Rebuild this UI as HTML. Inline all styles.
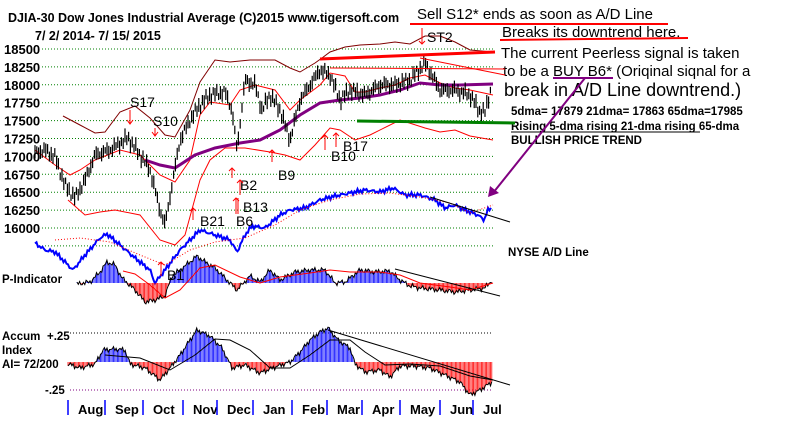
<!DOCTYPE html>
<html><head><meta charset="utf-8"><style>
html,body{margin:0;padding:0;background:#fff;width:800px;height:424px;overflow:hidden}
svg{display:block}
text{font-family:"Liberation Sans",sans-serif;fill:#000}
.b{font-weight:bold}
</style></head><body>
<svg id="s" width="800" height="424" viewBox="0 0 800 424" xmlns="http://www.w3.org/2000/svg">
<g id="grid" stroke="#008000" stroke-dasharray="1,2" stroke-width="1"></g>
<g id="bands" fill="none"></g>
<g id="bars" stroke="#000" stroke-width="1.2"></g>
<g id="ind"></g>
<g font-size="13" class="b">
<text x="8" y="22" font-size="12.5" class="b">DJIA-30  Dow Jones Industrial Average   (C)2015 www.tigersoft.com</text>
<text x="35" y="40" font-size="12.5" class="b">7/ 2/ 2014- 7/ 15/ 2015</text>
</g>
<g id="ylab" font-size="13" font-weight="bold"></g>
<g font-size="14">
<text x="130" y="107">S17</text><text x="153" y="126">S10</text>
<text x="240" y="190">B2</text><text x="278" y="180">B9</text>
<text x="331" y="161">B10</text><text x="343" y="151">B17</text>
<text x="243" y="212">B13</text><text x="236" y="226">B6</text><text x="200" y="226">B21</text>
<text x="427" y="42">ST2</text><text x="167" y="280">B1</text>
</g>
<g stroke="red" stroke-width="1" fill="none">
<path d="M130,110V124M127,120L130,124L133,120"/>
<path d="M155,128V136M152,132L155,136L158,132"/>
<path d="M232,168V178M229,171L232,168L235,171"/>
<path d="M240,180V195M237,183L240,180L243,183"/>
<path d="M236,198V214M233,201L236,198L239,201M238,198V214"/>
<path d="M272,150V162M269,153L272,150L275,153"/>
<path d="M325,135V150M322,138L325,135L328,138"/>
<path d="M336,133V147M333,136L336,133L339,136"/>
<path d="M193,208V220M190,211L193,208L196,211"/>
<path d="M422,28V44M419,41L422,44L425,41"/>
<path d="M161,262V276M158,265L161,262L164,265"/>
</g>
<g font-size="15">
<text x="417" y="19">Sell S12* ends as soon as A/D Line</text>
<text x="502" y="37">Breaks its downtrend here.</text>
<text x="501" y="58">The current Peerless signal is taken</text>
<text x="503" y="76">to be a BUY B6* (Oriqinal siqnal for a</text>
<text x="504" y="96" font-size="18">break in A/D Line downtrend.)</text>
</g>
<g font-size="11.5" font-weight="bold">
<text x="511" y="115">5dma= 17879 21dma= 17863 65dma=17985</text>
<text x="511" y="130">Rising 5-dma  rising 21-dma  rising 65-dma</text>
<text x="511" y="144">BULLISH PRICE TREND</text>
<text x="508" y="256">NYSE A/D Line</text>
<text x="2" y="283">P-Indicator</text>
<text x="2" y="340">Accum</text><text x="47" y="340">+.25</text>
<text x="2" y="354">Index</text>
<text x="2" y="368">AI= 72/200</text>
<text x="45" y="394">-.25</text>
</g>
<g stroke="#000" stroke-width="1">
<line x1="511" y1="132" x2="700" y2="132"/>
</g>
<g stroke="red" stroke-width="2" fill="none">
<line x1="410" y1="24" x2="668" y2="24"/>
<line x1="500" y1="40" x2="688" y2="38"/>
<path d="M320,59L495,52" stroke-width="3"/>
<path d="M330,68L505,69" stroke-width="1"/>
<path d="M420,58L505,75" stroke-width="1"/>
</g>
<path d="M357,121L515,123" stroke="#008000" stroke-width="3"/>
<line x1="553" y1="78" x2="613" y2="78" stroke="#800080" stroke-width="2"/>
<path d="M585,78L493,193" stroke="#800080" stroke-width="2"/>
<path d="M488,197L490,186L499,193Z" fill="#800080"/>
<g id="months" font-size="13" font-weight="bold"></g>
</svg>
<script>
var S=document.getElementById('s'),NS='http://www.w3.org/2000/svg';
function el(g,t,a){var e=document.createElementNS(NS,t);for(var k in a)e.setAttribute(k,a[k]);document.getElementById(g).appendChild(e);return e;}
var labs=['18500','18250','18000','17750','17500','17250','17000','16750','16500','16250','16000'];
for(var i=0;i<12;i++){var y=49+i*17.9;el('grid','line',{x1:42,y1:y,x2:493,y2:y});if(i<11){var t=el('ylab','text',{x:4,y:y+5});t.textContent=labs[i];}}
el('grid','line',{x1:70,y1:333,x2:493,y2:333,stroke:'#000'});
el('grid','line',{x1:70,y1:390,x2:493,y2:390,stroke:'#800080'});
function interp(p,x){for(var i=0;i<p.length-1;i++){if(x>=p[i][0]&&x<=p[i+1][0]){var t=(x-p[i][0])/(p[i+1][0]-p[i][0]);return p[i][1]+t*(p[i+1][1]-p[i][1]);}}return p[p.length-1][1];}
function nz(x,a){return a*(Math.sin(x*1.7)*0.6+Math.sin(x*0.63+1)*0.4);}
var P=[[35,153],[45,150],[55,157],[65,185],[75,198],[85,180],[95,155],[110,150],[128,138],[140,155],[150,170],[160,210],[165,225],[172,185],[180,140],[190,120],[200,105],[210,95],[225,92],[232,110],[237,150],[245,80],[255,85],[262,110],[270,95],[280,110],[290,140],[300,100],[310,85],[320,70],[330,75],[340,100],[350,90],[365,95],[380,85],[395,85],[410,80],[425,63],[440,90],[455,90],[470,95],[480,112],[485,112],[492,85]];
for(var x=35;x<=492;x+=1.8){var c=interp(P,x)+nz(x,5);var h=6+Math.abs(Math.sin(x*2.3))*8;el('bars','line',{x1:x.toFixed(1),y1:(c-h/2).toFixed(1),x2:x.toFixed(1),y2:(c+h/2).toFixed(1)});}
function poly(g,pts,st,w,dash){el(g,'polyline',{points:pts.map(function(p){return p.join(',')}).join(' '),stroke:st,'stroke-width':w||1,fill:'none','stroke-dasharray':dash||''});}
poly('bands',[[63,116],[80,125],[95,133],[105,132],[120,112],[135,106],[150,118],[165,135],[175,137],[190,110],[200,82],[215,60],[230,62],[250,60],[275,60],[290,68],[300,72],[315,63],[322,58],[330,52],[345,47],[360,45],[380,44],[395,42],[410,44],[425,36],[440,36],[455,42],[470,50],[493,52]],'#800000');
poly('bands',[[35,150],[55,165],[70,175],[80,170],[95,160],[120,150],[140,155],[160,175],[175,182],[190,160],[200,115],[210,102],[230,105],[240,90],[255,85],[275,90],[290,110],[300,100],[320,85],[330,73],[345,76],[355,92],[365,92],[380,88],[395,85],[410,78],[425,75],[440,83],[455,88],[470,90],[493,95]],'red');
poly('bands',[[68,200],[85,215],[100,212],[115,210],[140,215],[160,240],[175,245],[185,235],[200,180],[210,160],[225,148],[245,148],[270,152],[285,155],[300,160],[315,145],[330,128],[340,130],[355,140],[370,135],[400,120],[425,128],[440,132],[455,130],[470,136],[493,140]],'red');
poly('bands',[[145,160],[160,165],[175,168],[195,155],[215,148],[240,143],[260,140],[280,130],[300,115],[320,103],[340,100],[360,98],[380,95],[400,90],[420,83],[440,85],[460,85],[493,84]],'#800080',3);
var A=[[35,243],[45,250],[55,252],[65,262],[73,270],[85,255],[100,238],[107,234],[120,245],[135,258],[150,270],[155,283],[165,270],[180,250],[200,230],[215,235],[230,240],[237,252],[245,235],[252,226],[265,228],[280,215],[290,210],[305,208],[320,200],[335,196],[350,193],[365,190],[380,192],[393,188],[405,195],[420,195],[435,200],[445,208],[455,205],[465,210],[478,215],[484,220],[488,210],[492,208]];
var ap=[];for(var x=35;x<=492;x+=1.5)ap.push([x,(interp(A,x)+nz(x*1.3,2.5)).toFixed(1)]);
poly('ind',ap,'#0000ff',2);
poly('ind',[[55,240],[80,238],[110,242],[140,255],[165,265],[190,250],[215,242],[245,238],[275,225],[300,210],[330,200],[360,194],[390,193],[420,197],[450,203],[470,213],[493,205]],'red',1,'1,2');
poly('ind',[[430,197],[510,222]],'#000');
var pb=283,PI=[[77,284],[90,282],[100,272],[107,262],[115,265],[122,278],[135,290],[145,302],[155,300],[165,296],[172,276],[185,266],[197,256],[205,262],[215,268],[230,283],[237,290],[250,276],[260,282],[270,270],[280,280],[295,272],[310,270],[325,270],[335,283],[345,282],[360,270],[375,272],[390,271],[400,280],[410,286],[420,288],[440,290],[455,292],[470,290],[485,288],[492,280]];
var pp=[];for(var x=77;x<=492;x+=1.3){var v=interp(PI,x)+nz(x*1.1,3);pp.push([x,v.toFixed(1)]);el('ind','line',{x1:x.toFixed(1),y1:pb,x2:x.toFixed(1),y2:v.toFixed(1),stroke:v<pb?'#0000ff':'red','stroke-width':0.8});}
poly('ind',pp,'#000');
poly('ind',[[123,271],[135,274],[150,285],[165,298],[180,290],[200,268],[215,265],[240,277],[260,283],[280,277],[310,273],[330,270],[350,272],[380,272],[400,275],[420,283],[450,287],[470,290],[493,283]],'red');
poly('ind',[[395,269],[500,296]],'#000');
var ab=362,AC=[[68,364],[80,368],[95,364],[103,350],[115,349],[125,350],[130,364],[145,368],[160,380],[170,368],[180,355],[190,340],[197,330],[210,336],[222,348],[232,368],[245,365],[260,373],[275,367],[290,362],[300,352],[310,340],[320,332],[328,328],[338,340],[350,348],[355,364],[365,372],[380,370],[390,377],[400,366],[415,366],[430,368],[445,375],[460,382],[470,395],[480,390],[492,382]];
var aq=[];for(var x=68;x<=492;x+=1.3){var v=interp(AC,x)+nz(x*1.2,3);aq.push([x,v.toFixed(1)]);el('ind','line',{x1:x.toFixed(1),y1:ab,x2:x.toFixed(1),y2:v.toFixed(1),stroke:v<ab?'#0000ff':'red','stroke-width':0.8});}
poly('ind',aq,'#000');
poly('ind',[[105,355],[140,358],[170,370],[195,355],[215,339],[230,340],[250,350],[270,368],[290,368],[310,355],[330,340],[350,340],[365,352],[385,365],[410,364],[440,366],[470,376],[493,380]],'#000');
poly('ind',[[328,330],[510,385]],'#000');
var mx=[68,105,143,183,217,253,292,327,362,400,440,473],mn=['Aug','Sep','Oct','Nov','Dec','Jan','Feb','Mar','Apr','May','Jun','Jul'];
for(var i=0;i<12;i++){el('months','line',{x1:mx[i],y1:400,x2:mx[i],y2:415,stroke:'#0000ff','stroke-width':1.5});var t=el('months','text',{x:mx[i]+10,y:414});t.textContent=mn[i];}
</script>
</body></html>
